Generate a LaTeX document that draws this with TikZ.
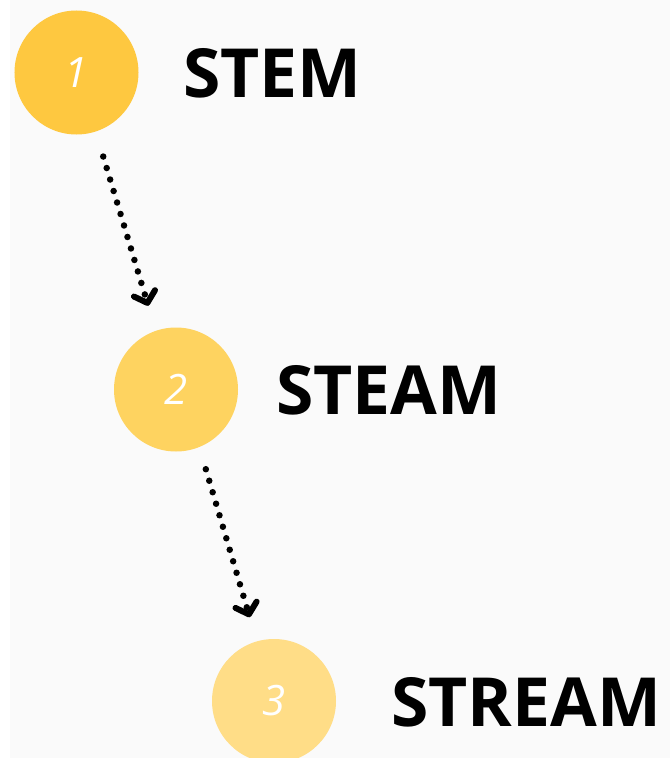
\documentclass[tikz,border=0pt]{standalone}
\usepackage{fontspec}
\setmainfont{Open Sans}
\usepackage{tikz}
\usetikzlibrary{arrows.meta}
\definecolor{stepone}{RGB}{254,200,64}
\definecolor{steptwo}{RGB}{254,211,96}
\definecolor{stepthree}{RGB}{255,221,135}
\definecolor{paper}{RGB}{250,250,250}
\tikzset{
	stage/.style={circle, minimum size=124bp, inner sep=0pt, text=white, font=\itshape\fontsize{42}{46}\selectfont},
	word/.style={anchor=west, inner sep=0pt, font=\bfseries\fontsize{68}{76}\selectfont},
	flow/.style={line width=6.5bp, line cap=round, dash pattern=on 0bp off 12bp,
		-{Straight Barb[length=10bp, width=22bp, line width=6bp, round]}}
}

\begin{document}
\begin{tikzpicture}[x=1bp, y=-1bp]
			%%%%% START %%%%%
			
			\useasboundingbox (0, 0) rectangle (670, 758);
			\clip (0, 0) rectangle (670, 758);
			\fill[paper] (0, 0) rectangle (670, 758);
			\fill[white] (0, 0) rectangle (10, 758);
			
			\node[stage, fill=stepone] (one) at (76.5, 72.5) {1};
			\node[stage, fill=steptwo] (two) at (176, 389.5) {2};
			\node[stage, fill=stepthree] (three) at (274, 701) {3};
			
			\node[word] (stem) at (183, 73.5) {STEM};
			\node[word] (steam) at (276, 390.5) {STEAM};
			\node[word] (stream) at (391, 702.5) {STREAM};
			
			\draw[flow, shorten <=26bp, shorten >=26bp] (one.-72) -- (two.109);
			\draw[flow, shorten <=23bp, shorten >=25bp] (two.-68) -- (three.106);
			
			%%%%% END %%%%%
		\end{tikzpicture}
\end{document}
